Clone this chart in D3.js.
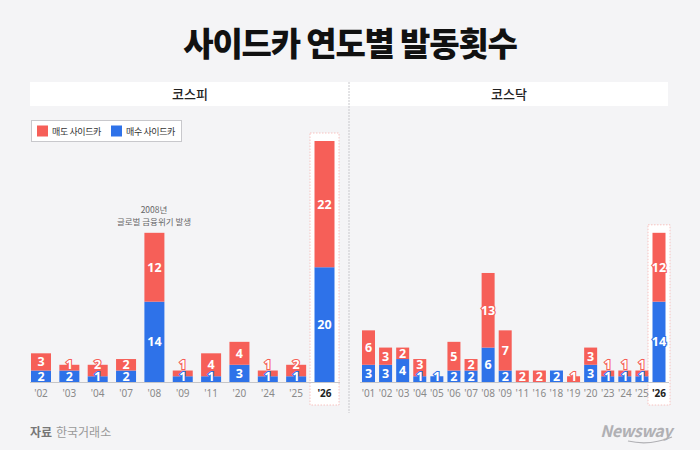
<!DOCTYPE html>
<html>
<head>
<meta charset="utf-8">
<script src="https://cdn.jsdelivr.net/npm/d3@7"></script>
<style>
  body { margin: 0; background: #f4f4f6; }
  svg text { font-family: "Noto Sans CJK KR", "Noto Sans", sans-serif; }
  svg text.num { font-family: "Noto Sans", "Noto Sans CJK KR", sans-serif; }
</style>
</head>
<body>
<div id="main"></div>
<script>
// data
let kospiYears = ["'02","'03","'04","'07","'08","'09","'11","'20","'24","'25","'26"];
let kospiBuy   = [2, 2, 1, 2, 14, 1, 1, 3, 1, 1, 20];
let kospiSell  = [3, 1, 2, 2, 12, 1, 4, 4, 1, 2, 22];

let kosdaqYears = ["'01","'02","'03","'04","'05","'06","'07","'08","'09","'11","'16","'18","'19","'20","'23","'24","'25","'26"];
let kosdaqBuy   = [3, 3, 4, 1, 1, 2, 2, 6, 2, 0, 0, 2, 0, 3, 1, 1, 1, 14];
let kosdaqSell  = [6, 3, 2, 3, 0, 5, 2, 13, 7, 2, 2, 0, 1, 3, 1, 1, 1, 12];

let seriesNames = ["매도 사이드카", "매수 사이드카"];
let red = "#f65f58";
let blue = "#2e72e9";

let W = 700, H = 450;
let svg = d3.select("#main").append("svg")
    .attr("width", W).attr("height", H);

svg.append("rect").attr("width", W).attr("height", H).attr("fill", "#f4f4f6");

// title
svg.append("text")
    .attr("x", 350).attr("y", 56)
    .attr("text-anchor", "middle")
    .attr("font-size", 33).attr("font-weight", 900)
    .attr("letter-spacing", -1.2)
    .attr("fill", "#111")
    .text("사이드카 연도별 발동횟수");

// header bands
svg.append("rect").attr("x", 30).attr("y", 82).attr("width", 638).attr("height", 24).attr("fill", "#fff");
svg.append("line").attr("x1", 349).attr("x2", 349).attr("y1", 82).attr("y2", 413)
    .attr("stroke", "#c8c8cc").attr("stroke-dasharray", "2,1");
svg.append("text").attr("x", 190).attr("y", 99).attr("text-anchor", "middle")
    .attr("font-size", 13).attr("font-weight", 500).attr("fill", "#222").text("코스피");
svg.append("text").attr("x", 509).attr("y", 99).attr("text-anchor", "middle")
    .attr("font-size", 13).attr("font-weight", 500).attr("fill", "#222").text("코스닥");

let y = d3.scaleLinear().domain([0, 42]).range([382, 141]);

function panel(years, buy, sell, x0, x1, barW, lineX0, lineX1) {
    let x = d3.scalePoint().domain(years).range([x0, x1]);
    let g = svg.append("g");
    let last = years[years.length - 1];
    let lastTotal = buy[buy.length - 1] + sell[sell.length - 1];

    // highlight box for latest year
    g.append("rect")
        .attr("x", x(last) - barW / 2 - 4.5)
        .attr("y", y(lastTotal) - 8)
        .attr("width", barW + 9)
        .attr("height", 405 - y(lastTotal) + 8)
        .attr("fill", "#fff")
        .attr("stroke", "#f8b5b2").attr("stroke-dasharray", "1.5,1.5").attr("stroke-width", 0.8);

    g.append("line").attr("x1", lineX0).attr("x2", lineX1)
        .attr("y1", 382.5).attr("y2", 382.5).attr("stroke", "#c5c5c8");

    let rows = years.map((yr, i) => ({ yr: yr, buy: buy[i], sell: sell[i] }));

    // blue (buy) segments
    g.selectAll(".b").data(rows.filter(d => d.buy > 0)).enter()
        .append("rect")
        .attr("x", d => x(d.yr) - barW / 2)
        .attr("y", d => y(d.buy))
        .attr("width", barW)
        .attr("height", d => y(0) - y(d.buy))
        .attr("fill", blue);

    // red (sell) segments
    g.selectAll(".r").data(rows.filter(d => d.sell > 0)).enter()
        .append("rect")
        .attr("x", d => x(d.yr) - barW / 2)
        .attr("y", d => y(d.buy + d.sell))
        .attr("width", barW)
        .attr("height", d => y(d.buy) - y(d.buy + d.sell))
        .attr("fill", red);

    // label centres: small segments get nudged so labels don't collide
    rows.forEach(d => {
        d.by = Math.min((y(0) + y(d.buy)) / 2, 377);
        let rc = (y(d.buy) + y(d.buy + d.sell)) / 2;
        d.ry = d.buy > 0 ? Math.min(rc, d.by - 12) : Math.min(rc, 377);
    });

    function lab(data, key, cy, col) {
        g.selectAll(null).data(data).enter()
            .append("text")
            .attr("class", "num")
            .attr("x", d => x(d.yr))
            .attr("y", d => d[cy] + 4.4)
            .attr("text-anchor", "middle")
            .attr("font-size", 12.5).attr("font-weight", 700)
            .attr("fill", "#fff")
            .attr("stroke", col).attr("stroke-width", 2.2)
            .attr("paint-order", "stroke")
            .text(d => d[key]);
    }
    lab(rows.filter(d => d.buy > 0), "buy", "by", blue);
    lab(rows.filter(d => d.sell > 0), "sell", "ry", red);

    // tick labels
    g.selectAll(".t").data(years).enter()
        .append("text")
        .attr("class", "num")
        .attr("x", d => x(d))
        .attr("y", 397)
        .attr("text-anchor", "middle")
        .attr("font-size", 10)
        .attr("font-weight", d => d === last ? 700 : 400)
        .attr("fill", d => d === last ? "#222" : "#8a8a8a")
        .text(d => d);
}

panel(kospiYears, kospiBuy, kospiSell, 41, 324.5, 20, 30, 340);
panel(kosdaqYears, kosdaqBuy, kosdaqSell, 368.5, 659, 13, 360, 669);

// annotation
svg.append("text").attr("x", 154).attr("y", 213).attr("text-anchor", "middle")
    .attr("font-size", 8.5).attr("fill", "#666").text("2008년");
svg.append("text").attr("x", 154).attr("y", 225).attr("text-anchor", "middle")
    .attr("font-size", 8.5).attr("fill", "#666").text("글로벌 금융위기 발생");

// legend
let lg = svg.append("g");
lg.append("rect").attr("x", 31.5).attr("y", 120.5).attr("width", 150).attr("height", 21)
    .attr("fill", "#fff").attr("stroke", "#c8c8cc");
let legX = [37, 111];
[red, blue].forEach((c, i) => {
    lg.append("rect").attr("x", legX[i]).attr("y", 125.5).attr("width", 11).attr("height", 11).attr("fill", c);
    lg.append("text").attr("x", legX[i] + 15).attr("y", 134.5)
        .attr("font-size", 9).attr("letter-spacing", -0.4)
        .attr("fill", "#333").text(seriesNames[i]);
});

// footer
svg.append("text").attr("x", 30).attr("y", 437)
    .attr("font-size", 12).attr("font-weight", 700).attr("fill", "#777").text("자료");
svg.append("text").attr("x", 56).attr("y", 437)
    .attr("font-size", 12).attr("fill", "#999").text("한국거래소");

svg.append("text").attr("x", 672).attr("y", 437).attr("text-anchor", "end")
    .attr("font-family", "Liberation Sans, Arial, sans-serif")
    .attr("font-size", 16).attr("font-weight", 700).attr("font-style", "italic")
    .attr("letter-spacing", -0.5)
    .attr("fill", "#b0b0b4").text("Newsway");
svg.append("path")
    .attr("d", "M628,441 Q650,446 672,437")
    .attr("fill", "none").attr("stroke", "#b0b0b4").attr("stroke-width", 1.2);
</script>
</body>
</html>
